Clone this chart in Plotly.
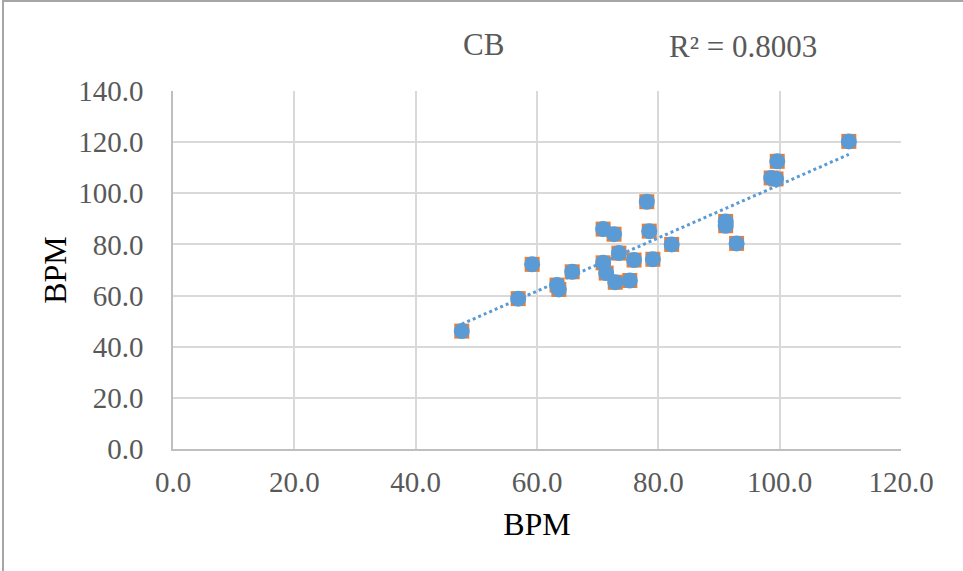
import numpy as np
import plotly.graph_objects as go

x_vals = [47.6, 56.9, 59.2, 63.3, 63.6, 65.8, 70.9, 70.9, 71.4, 72.7, 72.9, 73.5,
          75.3, 76.0, 78.1, 78.5, 79.1, 82.2, 91.1, 91.1, 92.9, 98.6, 99.4, 99.6, 111.4]
y_vals = [46.1, 58.8, 72.2, 64.1, 62.4, 69.3, 86.0, 72.8, 68.8, 84.0, 65.2, 76.6,
          65.9, 73.9, 96.7, 85.2, 74.2, 80.0, 89.0, 87.3, 80.4, 106.0, 105.6, 112.5, 120.3]
x_ticks = [0, 20, 40, 60, 80, 100, 120]
y_ticks = [0, 20, 40, 60, 80, 100, 120, 140]
chart_title = "CB"
r2_text = "R² = 0.8003"
axis_title = "BPM"

BLUE = "#5B9BD5"
ORANGE = "#ED7D31"
FONT = "Liberation Serif"

coef = np.polyfit(x_vals, y_vals, 1)
tx = np.array([min(x_vals), max(x_vals)])
ty = np.polyval(coef, tx)

fig = go.Figure()
fig.add_trace(go.Scatter(x=x_vals, y=y_vals, mode="markers",
                         marker=dict(symbol="square", size=15, color=ORANGE, line=dict(width=0)),
                         showlegend=False, hoverinfo="skip"))
fig.add_trace(go.Scatter(x=x_vals, y=y_vals, mode="markers",
                         marker=dict(symbol="circle", size=16, color=BLUE, line=dict(width=0)),
                         showlegend=False))
fig.add_trace(go.Scatter(x=tx, y=ty, mode="lines",
                         line=dict(color=BLUE, width=3, dash="dot"),
                         showlegend=False, hoverinfo="skip"))

W, H = 963, 571
L, R, T, B = 173, 62, 91, 122
pw, ph = W - L - R, H - T - B

def px_x(p):
    return (p - L) / pw

def px_y(p):
    return (H - B - p) / ph

fig.update_layout(
    width=W, height=H,
    margin=dict(l=L, r=R, t=T, b=B),
    paper_bgcolor="white", plot_bgcolor="white",
    font=dict(family=FONT, color="#595959"),
    xaxis=dict(range=[0, 120], tickvals=x_ticks, ticktext=[f"{v:.1f}" for v in x_ticks],
               showgrid=True, gridcolor="#D9D9D9", gridwidth=1.5,
               showline=True, linecolor="#BFBFBF", linewidth=1.5,
               zeroline=False, ticks="outside", ticklen=6, tickcolor="rgba(0,0,0,0)",
               tickfont=dict(size=29, family=FONT, color="#595959"),
               title=dict(text=axis_title, font=dict(size=32, family=FONT, color="black"), standoff=16)),
    yaxis=dict(range=[0, 140], tickvals=y_ticks, ticktext=[f"{v:.1f}" for v in y_ticks],
               showgrid=True, gridcolor="#D9D9D9", gridwidth=1.5,
               showline=True, linecolor="#BFBFBF", linewidth=1.5,
               zeroline=False, ticks="outside", ticklen=22, tickcolor="rgba(0,0,0,0)",
               tickfont=dict(size=29, family=FONT, color="#595959"),
               title=dict(text=axis_title, font=dict(size=32, family=FONT, color="black"), standoff=2)),
    annotations=[
        dict(text=chart_title, x=px_x(483), y=px_y(45), xref="paper", yref="paper",
             showarrow=False, font=dict(size=31, family=FONT, color="#595959"),
             xanchor="center", yanchor="middle"),
        dict(text=r2_text, x=px_x(743), y=px_y(46), xref="paper", yref="paper",
             showarrow=False, font=dict(size=31, family=FONT, color="#595959"),
             xanchor="center", yanchor="middle"),
    ],
    shapes=[
        dict(type="line", xref="paper", yref="paper", x0=px_x(3), x1=px_x(3), y0=px_y(0), y1=px_y(571),
             line=dict(color="#A6A6A6", width=2)),
        dict(type="line", xref="paper", yref="paper", x0=px_x(3), x1=px_x(963), y0=px_y(1), y1=px_y(1),
             line=dict(color="#A6A6A6", width=2)),
    ],
)

fig.write_html("out.html")
